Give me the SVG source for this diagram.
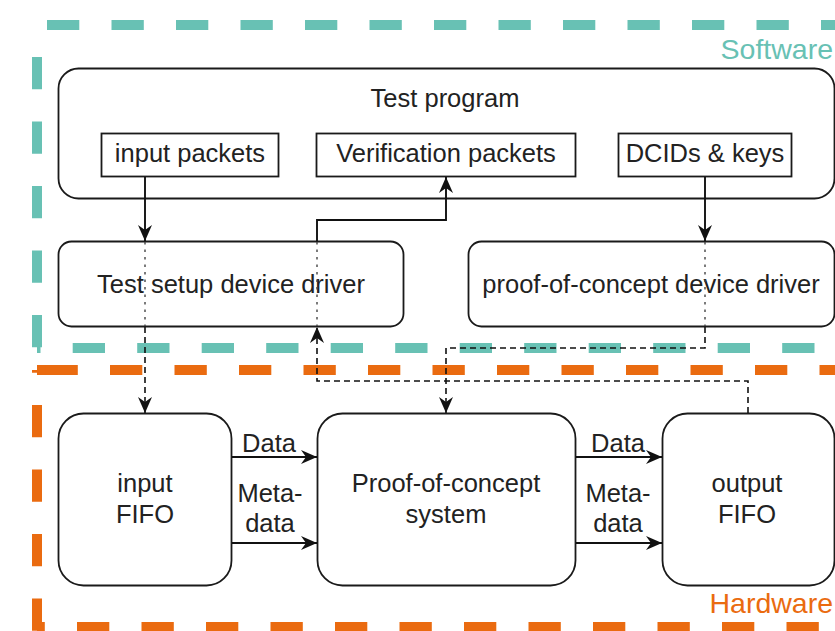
<svg xmlns="http://www.w3.org/2000/svg" width="835" height="631" viewBox="0 0 835 631">
  <style>
    .zone { fill: none; stroke-width: 10; stroke-dasharray: 32.3 32.2; }
    .sw { stroke: #68C1B4; }
    .hw { stroke: #EA6B10; }
    .box { fill: #fff; stroke: #1a1a1a; stroke-width: 1.8; }
    .lbl { font-family: "Liberation Sans", Arial, Helvetica, sans-serif; font-size: 25.5px; fill: #222; text-anchor: middle; }
    .zlbl { font-family: "Liberation Sans", Arial, Helvetica, sans-serif; font-size: 28.5px; text-anchor: end; }
    .solid { fill: none; stroke: #111; stroke-width: 1.9; }
    .dash { fill: none; stroke: #111; stroke-width: 1.6; stroke-dasharray: 6 4; }
    .dot { fill: none; stroke: #444; stroke-width: 1.4; stroke-dasharray: 2.5 5; }
  </style>
  <defs>
    <marker id="arrow" markerUnits="userSpaceOnUse" markerWidth="17" markerHeight="16" refX="16" refY="8" orient="auto">
      <path d="M0 1 L16 8 L0 15 L5 8 Z" fill="#111"/>
    </marker>
  </defs>

  <rect width="835" height="631" fill="#fff"/>

  <!-- Software zone border -->
  <g id="zone-software">
    <path class="zone sw" d="M37 25 H845" stroke-dashoffset="54.5"/>
    <path class="zone sw" d="M37 25 V348" stroke-dashoffset="32.5"/>
    <path class="zone sw" d="M37 348 H845" stroke-dashoffset="28.8"/>
    <text class="zlbl" x="833" y="59" fill="#68C1B4">Software</text>
  </g>

  <!-- Hardware zone border -->
  <g id="zone-hardware">
    <path class="zone hw" d="M37 370 H47"/>
    <path class="zone hw" d="M37 370 H845" stroke-dashoffset="56"/>
    <path class="zone hw" d="M37 370 V632" stroke-dashoffset="29.5"/>
    <path class="zone hw" d="M37 627 H845" stroke-dashoffset="24.5"/>
    <text class="zlbl" x="833" y="613" fill="#EA6B10">Hardware</text>
  </g>

  <!-- Nodes -->
  <g id="test-program">
    <rect class="box" x="58.5" y="68.5" width="776" height="130" rx="20"/>
    <text class="lbl" x="445" y="107">Test program</text>
  </g>
  <g id="input-packets">
    <rect class="box" x="101.5" y="133.5" width="177" height="43"/>
    <text class="lbl" x="190" y="162">input packets</text>
  </g>
  <g id="verification-packets">
    <rect class="box" x="316.5" y="133.5" width="259" height="43"/>
    <text class="lbl" x="446" y="162">Verification packets</text>
  </g>
  <g id="dcids-keys">
    <rect class="box" x="618.5" y="133.5" width="173" height="43"/>
    <text class="lbl" x="705" y="162">DCIDs &amp; keys</text>
  </g>
  <g id="test-setup-driver">
    <rect class="box" x="58.5" y="241.5" width="345" height="85" rx="13"/>
    <text class="lbl" x="231" y="293">Test setup device driver</text>
  </g>
  <g id="poc-driver">
    <rect class="box" x="468.5" y="241.5" width="366" height="85" rx="13"/>
    <text class="lbl" x="651" y="293">proof-of-concept device driver</text>
  </g>
  <g id="input-fifo">
    <rect class="box" x="58.5" y="413.5" width="173" height="172" rx="25"/>
    <text class="lbl" x="145" y="492">input</text>
    <text class="lbl" x="145" y="523">FIFO</text>
  </g>
  <g id="poc-system">
    <rect class="box" x="317.5" y="413.5" width="258" height="172" rx="25"/>
    <text class="lbl" x="446" y="492">Proof-of-concept</text>
    <text class="lbl" x="446" y="523">system</text>
  </g>
  <g id="output-fifo">
    <rect class="box" x="662.5" y="413.5" width="172" height="172" rx="25"/>
    <text class="lbl" x="747" y="492">output</text>
    <text class="lbl" x="747" y="523">FIFO</text>
  </g>

  <!-- Connectors -->
  <g id="connectors">
    <!-- input packets down to the input FIFO -->
    <path class="solid" d="M145 177 V241" marker-end="url(#arrow)"/>
    <path class="dot" d="M145 242 V326"/>
    <path class="dash" d="M145 327 V413" marker-end="url(#arrow)"/>

    <!-- output FIFO back up to the verification packets -->
    <path class="dash" d="M748 413 V381 H317 V327" marker-end="url(#arrow)"/>
    <path class="dot" d="M317 242 V326"/>
    <path class="solid" d="M317 241 V220 H446 V177" marker-end="url(#arrow)"/>

    <!-- DCIDs & keys down to the proof-of-concept system -->
    <path class="solid" d="M705 177 V241" marker-end="url(#arrow)"/>
    <path class="dot" d="M705 242 V326"/>
    <path class="dash" d="M705 327 V348 H446 V413" marker-end="url(#arrow)"/>

    <!-- data paths -->
    <path class="solid" d="M232 457 H317" marker-end="url(#arrow)"/>
    <path class="solid" d="M232 543 H317" marker-end="url(#arrow)"/>
    <path class="solid" d="M576 457 H662" marker-end="url(#arrow)"/>
    <path class="solid" d="M576 543 H662" marker-end="url(#arrow)"/>

    <text class="lbl" x="269" y="452">Data</text>
    <text class="lbl" x="270" y="502">Meta-</text>
    <text class="lbl" x="270" y="532">data</text>
    <text class="lbl" x="618" y="452">Data</text>
    <text class="lbl" x="618" y="502">Meta-</text>
    <text class="lbl" x="618" y="532">data</text>
  </g>
</svg>
